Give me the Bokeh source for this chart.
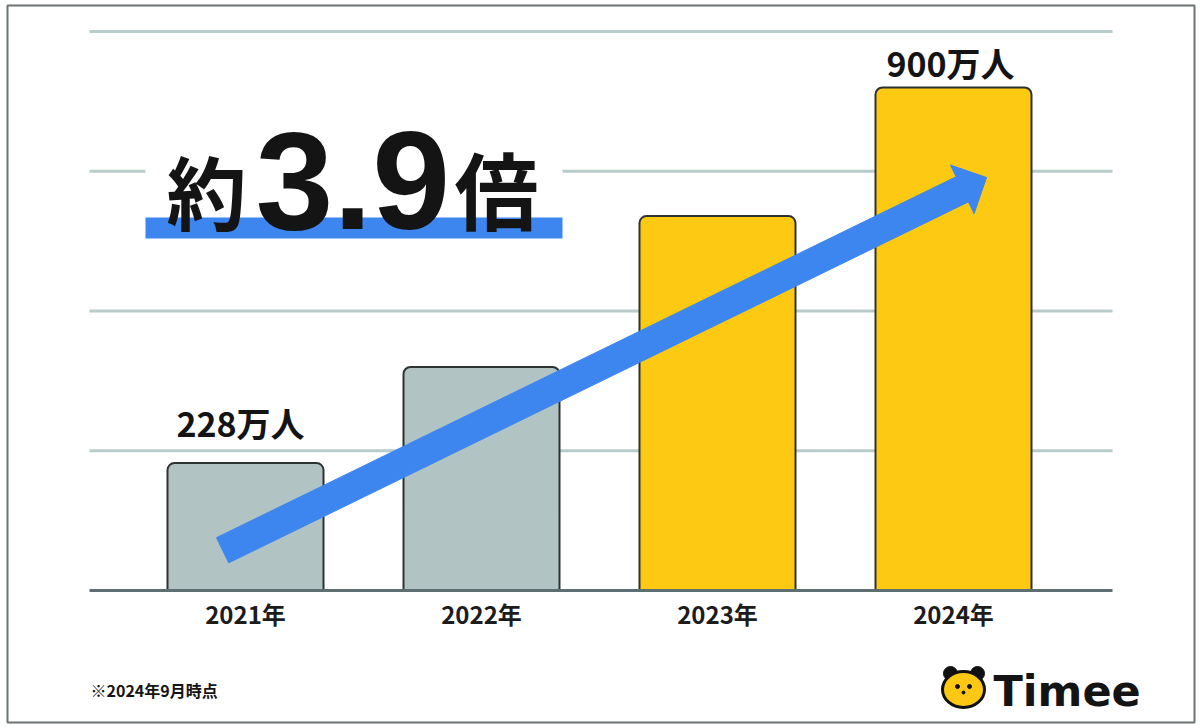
import numpy as np
from bokeh.plotting import figure
from bokeh.models import ColumnDataSource, Range1d
from bokeh.core.properties import value
from bokeh.embed import file_html
from bokeh.resources import INLINE

# ---- data -------------------------------------------------------------
years = ["2021年", "2022年", "2023年", "2024年"]
workers = [228, 400, 670, 900]          # registered workers, 万人
bar_colors = ["#b1c3c3", "#b1c3c3", "#fdc913", "#fdc913"]
grid_values = [250, 500, 750, 1000]
callout_index = [0, 3]
callout_text = ["228万人", "900万人"]
ratio_prefix, ratio_value, ratio_suffix = "約", "3.9", "倍"
footnote = "※2024年9月時点"
brand = "Timee"

# ---- layout helpers (pixel geometry -> data space) --------------------
W, H = 1200, 728
STEP = 236.0      # px between category centres
X0 = 245.0        # px centre of first category
BASE = 590.0      # px of the zero line
K = 503.0 / 900   # px per 万人


def cx(px):
    return (px - X0) / STEP


def cy(py):
    return (BASE - py) / K


L, R, T, B = 7, 6, 5, 6
p = figure(width=W, height=H,
           x_range=Range1d(cx(L), cx(W - R)),
           y_range=Range1d(cy(H - B), cy(T)),
           output_backend="svg", toolbar_location=None,
           x_axis_location=None, y_axis_location=None,
           min_border_left=L, min_border_right=R,
           min_border_top=T, min_border_bottom=B,
           outline_line_color="#6d7374", outline_line_width=2,
           background_fill_color="white", border_fill_color="white")
p.grid.grid_line_color = None

CJK = value("Noto Sans CJK JP")
INK = "#141414"

# horizontal guide lines
n = len(grid_values)
p.segment(x0=[cx(89)] * n, x1=[cx(1112)] * n, y0=grid_values, y1=grid_values,
          line_color="#b9cbcb", line_width=3)

# bars
src = ColumnDataSource(dict(x=list(range(len(years))), top=workers, color=bar_colors))
p.vbar(x="x", top="top", bottom=0, width=156 / STEP, source=src,
       fill_color="color", line_color="#2d3333", line_width=2,
       border_radius=(7, 7, 0, 0))

# zero line
p.segment(x0=[cx(89)], x1=[cx(1112)], y0=[0], y1=[0],
          line_color="#5d6f70", line_width=3)

# growth arrow, built in screen geometry and mapped back to data space
start = np.array([-0.097, 72.0])     # tail (category index, 万人)
tip = np.array([3.14, 739.0])        # head tip
sc = np.array([STEP, -K])            # data -> px (y down)
s_px, t_px = start * sc, tip * sc
u = (t_px - s_px) / np.linalg.norm(t_px - s_px)
nrm = np.array([-u[1], u[0]])
half_w, head_hw, head_len = 14.0, 27.0, 27.0
b_px = t_px - head_len * u
pts = [s_px + nrm * half_w, b_px + nrm * half_w, b_px + nrm * head_hw, t_px,
       b_px - nrm * head_hw, b_px - nrm * half_w, s_px - nrm * half_w]
pts = np.array(pts) / sc
p.patch(x=pts[:, 0], y=pts[:, 1], fill_color="#3d86f0", line_color="#3d86f0",
        line_width=1)

# headline with blue underline band
p.quad(left=[cx(145)], right=[cx(562)], bottom=[cy(216)], top=[cy(140)],
       fill_color="white", line_color=None)
p.quad(left=[cx(145)], right=[cx(562)], bottom=[cy(238)], top=[cy(217)],
       fill_color="#3d86f0", line_color=None)
p.text(x=[cx(166)], y=[cy(188)], text=[ratio_prefix], text_font=CJK,
       text_font_style="bold", text_font_size="80px", text_color=INK,
       text_align="left", text_baseline="alphabetic")
p.text(x=[cx(255)], y=[cy(180)], text=[ratio_value],
       text_font=value("Liberation Sans"), text_font_style="bold",
       text_font_size="140px", text_color=INK,
       text_align="left", text_baseline="alphabetic")
p.text(x=[cx(454)], y=[cy(187)], text=[ratio_suffix], text_font=CJK,
       text_font_style="bold", text_font_size="84px", text_color=INK,
       text_align="left", text_baseline="alphabetic")

# value callouts above the first and last bars
p.text(x=callout_index, y=[workers[i] for i in callout_index], text=callout_text,
       x_offset=[-5, -3], y_offset=[-41, -25], text_font=CJK,
       text_font_style="bold", text_font_size="34px", text_color=INK,
       text_align="center", text_baseline="alphabetic")

# category labels under the bars
p.text(x=list(range(len(years))), y=[0] * len(years), text=years,
       y_offset=[23] * len(years), text_font=CJK,
       text_font_style="bold", text_font_size="24px", text_color="#1c1c1c",
       text_align="center", text_baseline="middle")

# footnote
p.text(x=[cx(90)], y=[cy(689)], text=[footnote], text_font=CJK,
       text_font_style="bold", text_font_size="16px", text_color=INK,
       text_align="left", text_baseline="alphabetic")

# brand mark
p.scatter(x=[cx(950), cx(977)], y=[cy(673), cy(673)], size=14, color="#111111")
p.ellipse(x=[cx(963)], y=[cy(689)], width=42, height=36,
          width_units="screen", height_units="screen",
          fill_color="#fcc814", line_color="#111111", line_width=3)
p.scatter(x=[cx(957), cx(969), cx(963)], y=[cy(686), cy(686), cy(692)],
          size=[4, 4, 3], color="#111111")
p.text(x=[cx(993)], y=[cy(690)], text=[brand], text_font=value("DejaVu Sans"),
       text_font_style="bold", text_font_size="43px", text_color=INK,
       text_align="left", text_baseline="alphabetic")

open("out.html", "w").write(file_html(p, INLINE))
